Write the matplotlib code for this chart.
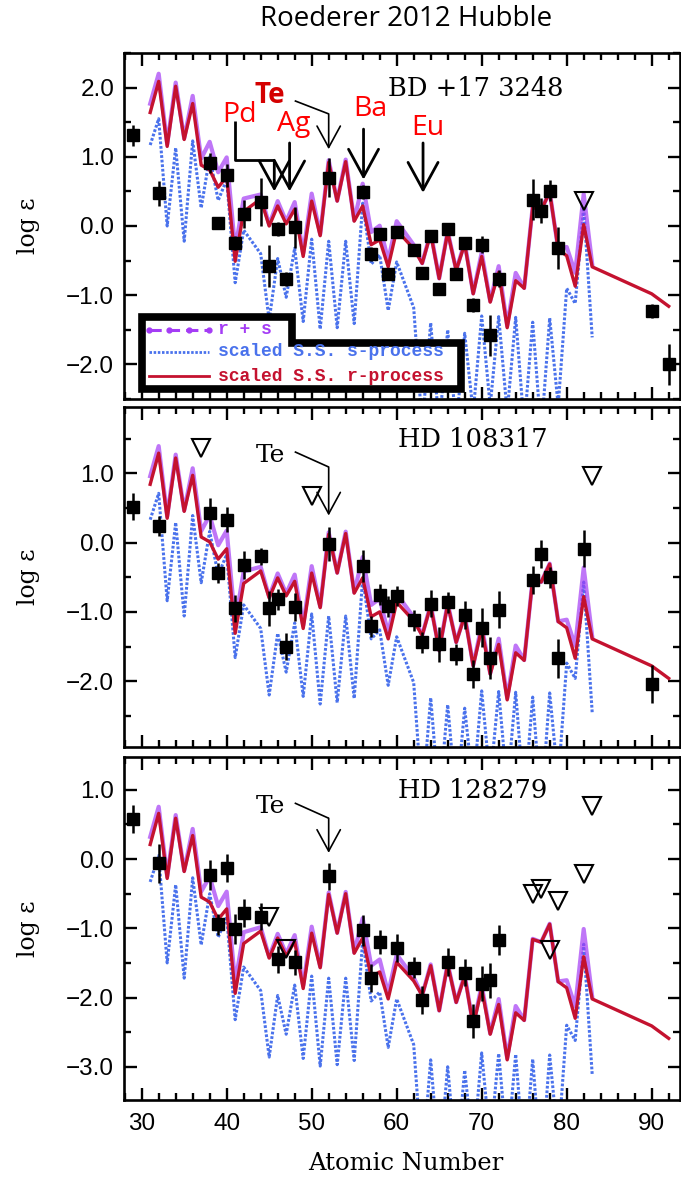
import numpy as np
import matplotlib
matplotlib.use("Agg")
import matplotlib.pyplot as plt
from matplotlib.patches import Polygon
from matplotlib.ticker import MultipleLocator, FuncFormatter

# ---------------------------------------------------------------------------
# Scaled solar-system model patterns (log eps), normalised to BD +17 3248
# ---------------------------------------------------------------------------
model_z = [31, 32, 33, 34, 35, 36, 37, 38, 39, 40, 41, 42, 44, 45, 46, 47, 48,
           49, 50, 51, 52, 53, 54, 55, 56, 57, 58, 59, 60, 62, 63, 64, 65, 66,
           67, 68, 69, 70, 71, 72, 73, 74, 75, 76, 77, 78, 79, 80, 81, 82, 83]
r_pattern = [1.64, 2.09, 1.15, 2.02, 1.25, 1.77, 0.88, 0.81, 0.56, 0.71, -0.51,
             0.21, 0.39, 0.00, 0.29, 0.03, 0.24, -0.44, 0.36, -0.14, 0.92, 0.36,
             0.93, 0.07, 0.29, -0.27, -0.20, -0.59, -0.06, -0.33, -0.54, -0.11,
             -0.76, -0.09, -0.64, -0.26, -0.98, -0.44, -1.10, -0.67, -1.47,
             -0.79, -0.90, 0.27, 0.23, 0.49, -0.34, -0.43, -0.87, 0.02, -0.59]
s_pattern = [1.17, 1.55, 0.00, 1.13, -0.22, 1.23, 0.26, 1.00, 0.37, 0.67, -0.82,
             -0.06, -0.40, -1.36, -0.47, -1.03, -0.32, -1.38, -0.19, -1.49, -0.22,
             -1.47, -0.22, -1.41, 0.33, -0.55, -0.42, -1.22, -0.52, -1.18, -2.90,
             -1.40, -2.90, -1.50, -2.90, -1.55, -2.70, -1.30, -2.60, -1.31, -2.70,
             -1.32, -2.90, -1.39, -3.00, -1.33, -2.60, -0.90, -1.12, 0.27, -1.61]
# r-process tail through Th and U
actinide_z = [90, 92]
r_actinide = [-0.98, -1.16]

star_names = ["BD +17 3248", "HD 108317", "HD 128279"]
r_shift = [0.0, -0.80, -1.43]
s_shift = [0.0, -0.84, -1.50]

# ---------------------------------------------------------------------------
# Measured abundances
# ---------------------------------------------------------------------------
bd_z = [29, 32, 38, 39, 40, 41, 42, 44, 45, 46, 47, 48, 52, 56, 57, 58, 59, 60,
        62, 63, 64, 65, 66, 67, 68, 69, 70, 71, 72, 76, 77, 78, 79, 90, 92]
bd_val = [1.31, 0.47, 0.91, 0.04, 0.73, -0.25, 0.17, 0.35, -0.58, -0.04, -0.76,
          -0.02, 0.70, 0.49, -0.41, -0.11, -0.70, -0.09, -0.34, -0.68, -0.14,
          -0.91, -0.04, -0.70, -0.25, -1.14, -0.27, -1.58, -0.76, 0.38, 0.22,
          0.51, -0.32, -1.23, -2.00]
bd_err = [0.15, 0.18, 0.15, 0.08, 0.17, 0.10, 0.20, 0.35, 0.30, 0.10, 0.10,
          0.30, 0.28, 0.10, 0.10, 0.08, 0.08, 0.08, 0.08, 0.08, 0.08, 0.08,
          0.08, 0.08, 0.08, 0.10, 0.12, 0.30, 0.12, 0.30, 0.18, 0.15, 0.30,
          0.10, 0.30]
bd_lim_z = [82]
bd_lim = [0.36]

hd1_z = [29, 32, 38, 39, 40, 41, 42, 44, 45, 46, 47, 48, 52, 56, 57, 58, 59, 60,
         62, 63, 64, 65, 66, 67, 68, 69, 70, 71, 72, 76, 77, 78, 79, 82, 90]
hd1_val = [0.52, 0.24, 0.42, -0.44, 0.33, -0.95, -0.32, -0.20, -0.95, -0.82,
           -1.50, -0.93, -0.02, -0.34, -1.21, -0.75, -0.92, -0.77, -1.12, -1.44,
           -0.88, -1.47, -0.86, -1.61, -1.05, -1.90, -1.23, -1.67, -0.97, -0.54,
           -0.17, -0.50, -1.67, -0.09, -2.04]
hd1_err = [0.20, 0.15, 0.22, 0.15, 0.18, 0.20, 0.20, 0.12, 0.25, 0.15, 0.20,
           0.20, 0.25, 0.23, 0.15, 0.15, 0.15, 0.15, 0.15, 0.15, 0.20, 0.25,
           0.15, 0.15, 0.20, 0.20, 0.28, 0.30, 0.27, 0.20, 0.20, 0.15, 0.28,
           0.27, 0.27]
hd1_lim_z = [37, 50, 83]
hd1_lim = [1.37, 0.67, 0.96]

hd2_z = [29, 32, 38, 39, 40, 41, 42, 44, 46, 48, 52, 56, 57, 58, 60, 62, 63, 66,
         68, 69, 70, 71, 72]
hd2_val = [0.58, -0.06, -0.23, -0.94, -0.13, -1.01, -0.78, -0.83, -1.45, -1.49,
           -0.25, -1.03, -1.72, -1.20, -1.28, -1.57, -2.04, -1.49, -1.64, -2.34,
           -1.80, -1.75, -1.17]
hd2_err = [0.20, 0.28, 0.22, 0.15, 0.20, 0.22, 0.20, 0.20, 0.20, 0.18, 0.20,
           0.22, 0.20, 0.17, 0.20, 0.15, 0.20, 0.20, 0.20, 0.25, 0.25, 0.25,
           0.22]
hd2_lim_z = [45, 47, 76, 77, 78, 79, 82, 83]
hd2_lim = [-0.83, -1.30, -0.51, -0.43, -1.31, -0.61, -0.21, 0.77]

detections = [(bd_z, bd_val, bd_err), (hd1_z, hd1_val, hd1_err),
              (hd2_z, hd2_val, hd2_err)]
limits = [(bd_lim_z, bd_lim), (hd1_lim_z, hd1_lim), (hd2_lim_z, hd2_lim)]

y_ranges = [(-2.5, 2.5), (-2.95, 1.96), (-3.48, 1.47)]
x_range = (27.92, 93.33)

# ---------------------------------------------------------------------------
RED = "#c4122f"
BLUE = "#4a72ec"
PURPLE = "#a43cf5"
SERIF = "DejaVu Serif"
SANS = "Liberation Sans"

W, H, DPI = 681, 1178, 100
fig = plt.figure(figsize=(W / DPI, H / DPI), dpi=DPI)

panel_boxes = [(53, 399), (406.7, 747), (757.3, 1100)]
left_px, right_px = 124, 680

minus_fmt = FuncFormatter(lambda v, pos: ("%.1f" % v).replace("-", "\u2212"))

axes = []
for i, (top, bot) in enumerate(panel_boxes):
    ax = fig.add_axes([left_px / W, 1 - bot / H, (right_px - left_px) / W,
                       (bot - top) / H])
    axes.append(ax)
    ax.set_xlim(*x_range)
    ax.set_ylim(*y_ranges[i])
    for sp in ax.spines.values():
        sp.set_linewidth(1.9)

    zr = np.array(model_z, dtype=float)
    r = np.array(r_pattern) + r_shift[i]
    s = np.array(s_pattern) + s_shift[i]
    rs = np.log10(10.0 ** r + 10.0 ** s)  # combined r + s abundance

    ax.plot(zr, s, color=BLUE, lw=2.2, ls=(0, (0.9, 0.6)), zorder=2)
    ax.plot(zr, rs, color=PURPLE, lw=3.0, alpha=0.7, zorder=3,
            solid_joinstyle="round")
    ax.plot(list(model_z) + actinide_z,
            list(r) + [v + r_shift[i] for v in r_actinide],
            color=RED, lw=2.4, zorder=4, solid_joinstyle="round")

    z, v, e = detections[i]
    ax.errorbar(z, v, yerr=e, fmt="s", color="k", ms=8.8, elinewidth=1.8,
                capsize=0, zorder=6)
    lz, lv = limits[i]
    ax.plot(lz, lv, "v", ms=12.5, mfc="none", mec="k", mew=1.5, zorder=6)

    # ticks
    ax.xaxis.set_major_locator(MultipleLocator(10))
    ax.xaxis.set_minor_locator(MultipleLocator(2))
    ax.yaxis.set_major_locator(MultipleLocator(1.0))
    ax.yaxis.set_minor_locator(MultipleLocator(0.5))
    ax.yaxis.set_major_formatter(minus_fmt)
    ax.tick_params(which="both", direction="in", top=True, right=True,
                   width=1.7, labelsize=17.5)
    ax.tick_params(which="major", length=9)
    ax.tick_params(which="minor", length=5)
    ax.tick_params(axis="y", pad=7)
    for lab in ax.get_yticklabels() + ax.get_xticklabels():
        lab.set_family(SANS)
    if i < 2:
        ax.tick_params(axis="x", labelbottom=False)
    else:
        ax.tick_params(axis="x", pad=9)

    fig.text(28 / W, 1 - (top + bot) / 2 / H, "log \u03b5", rotation=90,
             ha="center", va="center", fontsize=17, family=SERIF)

# star names
axes[0].text(69.3, 1.99, star_names[0], ha="center", va="center",
             fontsize=18.5, family=SERIF)
axes[1].text(68.9, 1.48, star_names[1], ha="center", va="center",
             fontsize=18.5, family=SERIF)
axes[2].text(68.9, 0.99, star_names[2], ha="center", va="center",
             fontsize=18.5, family=SERIF)


def bent_arrow(ax, pts, lw, scale, color="k"):
    xs, ys = zip(*pts)
    ax.plot(xs[:-1], ys[:-1], color=color, lw=lw, zorder=7,
            solid_capstyle="butt")
    ax.annotate("", xy=pts[-1], xytext=pts[-2],
                arrowprops=dict(arrowstyle="->,head_length=0.55,head_width=0.3",
                                lw=lw, color=color, mutation_scale=scale,
                                shrinkA=0, shrinkB=0), zorder=7)


# Te markers in every panel
te_text_y = [1.88, 1.26, 0.76]
te_path = [[(48.0, 1.81), (52.0, 1.62), (52.0, 1.11)],
           [(48.0, 1.31), (52.0, 1.09), (52.0, 0.39)],
           [(48.0, 0.81), (52.0, 0.59), (52.0, 0.09)]]
for i, ax in enumerate(axes):
    bent_arrow(ax, te_path[i], 1.2, 28)
axes[1].text(45.1, te_text_y[1], "Te", ha="center", va="center", fontsize=18,
             family=SERIF)
axes[2].text(45.1, te_text_y[2], "Te", ha="center", va="center", fontsize=18,
             family=SERIF)

# highlighted elements in the top panel
a0 = axes[0]
LABEL_FONT = "Open Sans"
a0.text(45.1, te_text_y[0], "Te", ha="center", va="center", fontsize=20,
        family=LABEL_FONT, color="#d40000", fontweight="bold", zorder=8)
a0.text(41.5, 1.60, "Pd", ha="center", va="center", fontsize=20.5,
        family=LABEL_FONT, color="#ff0000", zorder=8)
a0.text(47.9, 1.47, "Ag", ha="center", va="center", fontsize=20.5,
        family=LABEL_FONT, color="#ff0000", zorder=8)
a0.text(56.9, 1.69, "Ba", ha="center", va="center", fontsize=20.5,
        family=LABEL_FONT, color="#ff0000", zorder=8)
a0.text(63.7, 1.42, "Eu", ha="center", va="center", fontsize=20.5,
        family=LABEL_FONT, color="#ff0000", zorder=8)
bent_arrow(a0, [(41.0, 1.52), (41.0, 0.95), (45.6, 0.95), (45.6, 0.50)], 2.0, 36)
bent_arrow(a0, [(47.4, 1.20), (47.4, 0.50)], 2.0, 36)
bent_arrow(a0, [(56.1, 1.40), (56.1, 0.67)], 2.0, 36)
bent_arrow(a0, [(63.1, 1.20), (63.1, 0.48)], 2.0, 36)

# legend box with a stepped outline
box = Polygon([(30.05, -1.32), (47.7, -1.32), (47.7, -1.69), (67.6, -1.69),
               (67.6, -2.36), (30.05, -2.36)], closed=True, facecolor="white",
              edgecolor="black", lw=5.5, zorder=9, joinstyle="miter")
a0.add_patch(box)
lx = [30.9, 37.9]
a0.plot(np.linspace(lx[0], lx[1], 4), [-1.50] * 4, color=PURPLE, lw=2.2,
        ls=(0, (4, 2)), marker="o", ms=3.5, zorder=10)
a0.plot(lx, [-1.82] * 2, color=BLUE, lw=2.0, ls=(0, (0.9, 0.6)), zorder=10)
a0.plot(lx, [-2.17] * 2, color=RED, lw=2.0, zorder=10)
LEG_FONT = "Liberation Mono"
a0.text(39.0, -1.50, "r + s", color=PURPLE, fontsize=13, family=LEG_FONT,
        fontweight="bold", va="center", ha="left", zorder=10)
a0.text(39.0, -1.82, "scaled S.S. s-process", color=BLUE, fontsize=13,
        family=LEG_FONT, fontweight="bold", va="center", ha="left", zorder=10)
a0.text(39.0, -2.17, "scaled S.S. r-process", color=RED, fontsize=13,
        family=LEG_FONT, fontweight="bold", va="center", ha="left", zorder=10)

fig.text(406 / W, 1 - 1163 / H, "Atomic Number", ha="center", va="center",
         fontsize=17.5, family=SERIF)
fig.text(406 / W, 1 - 19 / H, "Roederer 2012 Hubble", ha="center",
         va="center", fontsize=20, family="Open Sans")

fig.savefig("out.png", dpi=DPI)
